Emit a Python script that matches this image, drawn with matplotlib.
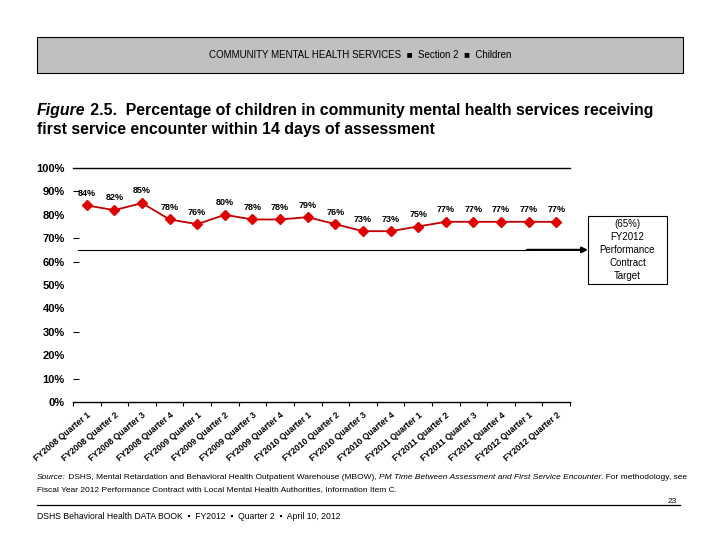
import numpy as np
import matplotlib
matplotlib.use("Agg")
import matplotlib.pyplot as plt
from matplotlib.patches import Rectangle
from matplotlib.transforms import blended_transform_factory

plt.rcParams["font.family"] = ["Liberation Sans", "DejaVu Sans"]

# ---- data ----
quarters = ["FY2008 Quarter 1", "FY2008 Quarter 2", "FY2008 Quarter 3", "FY2008 Quarter 4",
            "FY2009 Quarter 1", "FY2009 Quarter 2", "FY2009 Quarter 3", "FY2009 Quarter 4",
            "FY2010 Quarter 1", "FY2010 Quarter 2", "FY2010 Quarter 3", "FY2010 Quarter 4",
            "FY2011 Quarter 1", "FY2011 Quarter 2", "FY2011 Quarter 3", "FY2011 Quarter 4",
            "FY2012 Quarter 1", "FY2012 Quarter 2"]
pct = [84, 82, 85, 78, 76, 80, 78, 78, 79, 76, 73, 73, 75, 77, 77, 77, 77, 77]
target = 65
yticks = [0, 10, 20, 30, 40, 50, 60, 70, 80, 90, 100]
dash_ticks = [10, 30, 60, 70, 90]   # only these show a small tick mark

W, H = 720, 540
RED_LINE = "#c00000"; RED_MARK = "#e00000"

fig = plt.figure(figsize=(W / 100, H / 100), dpi=100)


def px(x, y):
    """pixel coords (top-left origin) -> figure fraction"""
    return x / W, 1 - y / H


# ---- header band ----
x0, y0 = px(37, 73)
fig.add_artist(Rectangle((x0, y0), (683 - 37) / W, 36 / H, transform=fig.transFigure,
                         facecolor="#c0c0c0", edgecolor="black", lw=0.8))
fig.text(*px(360, 55), "COMMUNITY MENTAL HEALTH SERVICES  \u25a0  Section 2  \u25a0  Children",
         ha="center", va="center", fontsize=7, color="black")

renderer = fig.canvas.get_renderer()


def runs(x, y, parts, **kw):
    """write consecutive text pieces with their own styles on one baseline"""
    for s, style in parts:
        t = fig.text(*px(x, y), s, style=style, va="baseline", ha="left", **kw)
        x += t.get_window_extent(renderer).width


runs(37, 115, [("Figure", "italic"), (" 2.5.", "normal"),
               ("  Percentage of children in community mental health services receiving", "normal")],
     fontsize=11.4, fontweight="bold")
runs(37, 134, [("first service encounter within 14 days of assessment", "normal")],
     fontsize=11.4, fontweight="bold")

# ---- chart ----
ax = fig.add_axes([73 / W, 1 - 402 / H, 497 / W, 234 / H])
x = np.arange(len(pct))
ax.plot(x, pct, color=RED_LINE, lw=1.3, marker="D", ms=5,
        markerfacecolor=RED_MARK, markeredgecolor=RED_MARK, zorder=3)
for xi, v in zip(x, pct):
    ax.annotate(f"{v}%", (xi, v), xytext=(0, 5.5), textcoords="offset points",
                ha="center", va="bottom", fontsize=6.5, fontweight="bold")

ax.set_xlim(-0.5, len(pct) - 0.5)
ax.set_ylim(0, 100)
ax.axhline(100, color="black", lw=1, clip_on=False)
for s in ["top", "right", "left"]:
    ax.spines[s].set_visible(False)
ax.spines["bottom"].set_linewidth(1)

ax.set_yticks(yticks)
ax.set_yticklabels([f"{v}%" for v in yticks], fontsize=8, fontweight="bold")
ax.tick_params(axis="y", direction="in", length=4, width=0.8, pad=6)
for tk, v in zip(ax.yaxis.get_major_ticks(), yticks):
    if v not in dash_ticks:
        tk.tick1line.set_visible(False)

ax.set_xticks(x)
ax.set_xticklabels(quarters, rotation=40, ha="right", rotation_mode="anchor",
                   fontsize=6.2, fontweight="bold")
ax.tick_params(axis="x", which="major", length=0, pad=6)
ax.set_xticks(np.arange(len(pct) + 1) - 0.5, minor=True)
ax.tick_params(axis="x", which="minor", length=3, width=0.8)

# target line + arrow into the note box
tr = blended_transform_factory(fig.transFigure, ax.transData)
ax.plot([78 / W, 528 / W], [target, target], transform=tr, color="black", lw=0.8, clip_on=False)
ax.annotate("", xy=(588 / W, target), xycoords=tr, xytext=(527 / W, target), textcoords=tr,
            arrowprops=dict(arrowstyle="-|>", color="black", lw=1.6, mutation_scale=8,
                            shrinkA=0, shrinkB=0), annotation_clip=False)
bx, by = px(588, 284)
fig.add_artist(Rectangle((bx, by), 79 / W, 68 / H, transform=fig.transFigure,
                         facecolor="white", edgecolor="black", lw=0.8))
fig.text(*px(627.5, 250), f"({target}%)\nFY2012\nPerformance\nContract\nTarget",
         ha="center", va="center", fontsize=7, linespacing=1.35)

# ---- source & footer ----
runs(37, 479, [("Source:", "italic"),
               (" DSHS, Mental Retardation and Behavioral Health Outpatient Warehouse (MBOW), ", "normal"),
               ("PM Time Between Assessment and First Service Encounter", "italic"),
               (". For methodology, see", "normal")], fontsize=6.0)
runs(37, 491, [("Fiscal Year 2012 Performance Contract with Local Mental Health Authorities, Information Item C.",
                "normal")], fontsize=6.0)
fig.add_artist(plt.Line2D([37 / W, 680 / W], [1 - 505 / H] * 2, transform=fig.transFigure,
                          color="black", lw=0.9))
fig.text(*px(677, 503), "23", ha="right", va="baseline", fontsize=6)
runs(37, 519, [("DSHS Behavioral Health DATA BOOK  \u25aa  FY2012  \u25aa  Quarter 2  \u25aa  April 10, 2012",
                "normal")], fontsize=6.2)

fig.savefig("out.png", dpi=100)
